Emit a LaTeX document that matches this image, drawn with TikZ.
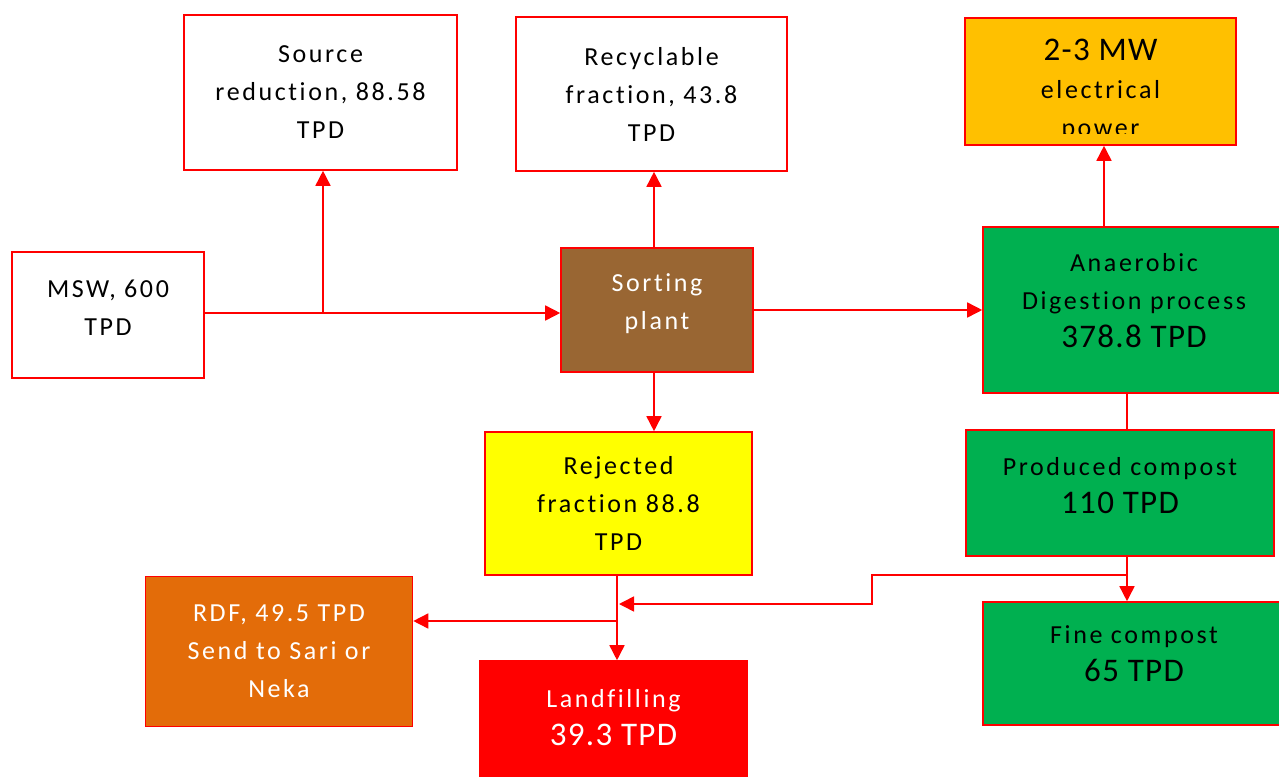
\documentclass[tikz,border=0pt]{standalone}
\usepackage{fontspec}
\setmainfont{Carlito}[LetterSpace=10, Ligatures=NoCommon]
\newfontfamily\bigfont{Carlito}[LetterSpace=4, Ligatures=NoCommon]
\usetikzlibrary{arrows.meta}
\definecolor{lineRed}{HTML}{FF0000}
\definecolor{powerOrange}{HTML}{FFC000}
\definecolor{sortBrown}{HTML}{996633}
\definecolor{digestGreen}{HTML}{00B050}
\definecolor{rejectYellow}{HTML}{FFFF00}
\definecolor{rdfOrange}{HTML}{E36C09}
\newcommand{\bignum}{\bigfont\fontsize{33}{38}\selectfont}

\begin{document}
\begin{tikzpicture}
        [x=1pt, y=-1pt,
        box/.style={draw=lineRed, line width=1.6pt, inner sep=0pt, align=center,
                    font=\fontsize{26}{38}\selectfont},
        link/.style={draw=lineRed, line width=1.6pt},
        flow/.style={link, -{Triangle[length=15pt,width=15pt]}}]
\useasboundingbox (0,0) rectangle (1279,776);
%%
%% Boxes
%%
\node[box, minimum width=273pt, minimum height=155pt] (source) at (320.5,92.5) {Source\\reduction, 88.58\\TPD};
\node[box, minimum width=271pt, minimum height=154pt] (recyc) at (651.5,94) {Recyclable\\fraction, 43.8\\TPD};
\node[box, fill=powerOrange, minimum width=271pt, minimum height=127pt] (power) at (1100.5,81.5) {};
\node[box, text depth=14pt, minimum width=192pt, minimum height=126pt] (msw) at (108,315) {MSW, 600\\TPD};
\node[box, text depth=17pt, fill=sortBrown, text=white, minimum width=192pt, minimum height=124pt] (sort) at (657,310) {Sorting\\plant};
\node[box, text depth=20pt, fill=digestGreen, minimum width=302pt, minimum height=166pt] (digest) at (1134,310) {Anaerobic\\Digestion process\\{\bignum 378.8 TPD}};
\node[box, fill=rejectYellow, minimum width=267pt, minimum height=143pt] (reject) at (618.5,503.5) {Rejected\\fraction 88.8\\TPD};
\node[box, text depth=16pt, fill=digestGreen, minimum width=308pt, minimum height=126pt] (compost) at (1120,493) {Produced compost\\{\bignum 110 TPD}};
\node[box, fill=rdfOrange, text=white, minimum width=267pt, minimum height=150pt] (rdf) at (279,651.5) {RDF, 49.5 TPD\\Send to Sari or\\Neka};
\node[box, text depth=10pt, fill=lineRed, text=white, minimum width=267pt, minimum height=122pt] (land) at (613.5,722) {Landfilling\\{\bignum 39.3 TPD}};
\node[box, text depth=20pt, fill=digestGreen, minimum width=302pt, minimum height=123pt] (fine) at (1134,663.5) {Fine compost\\{\bignum 65 TPD}};
%%
%% Text of the power box, cut off at its lower edge
%%
\begin{scope}
\clip (power.north west) rectangle ([yshift=12pt]power.south east);
\node[align=center, anchor=north, inner sep=0pt, font=\fontsize{26}{38}\selectfont] (powertext) at ([yshift=-22pt]power.north) {{\bignum 2-3 MW}\\electrical\\power};
\end{scope}
%%
%% Junctions
%%
\coordinate (msw split) at (323,313);
\coordinate (compost split) at (1127,575);
\coordinate (compost bend) at (872,604);
\coordinate (reject split) at (617,621);
\coordinate (compost end) at (619,604);
%%
%% Connectors
%%
\draw[flow] (msw.east |- msw split) -- (sort.west |- msw split);
\draw[flow] (msw split) -- (msw split |- source.south);
\draw[flow] ([xshift=-3pt]sort.north) -- ([xshift=-3pt]sort.north |- recyc.south);
\draw[flow] (sort.east) -- (digest.west);
\draw[flow] ([xshift=3.5pt]power.south |- digest.north) -- ([xshift=3.5pt]power.south);
\draw[flow] ([xshift=-3pt]sort.south) -- ([xshift=-3pt]sort.south |- reject.north);
\draw[link] (compost split |- digest.south) -- (compost split |- compost.north);
\draw[flow] (compost split |- compost.south) -- (compost split |- fine.north);
\draw[flow] (compost split) -| (compost bend) -- (compost end);
\draw[flow] (reject split |- reject.south) -- (reject split |- land.north);
\draw[flow] (reject split) -- (rdf.east |- reject split);
\end{tikzpicture}
\end{document}
